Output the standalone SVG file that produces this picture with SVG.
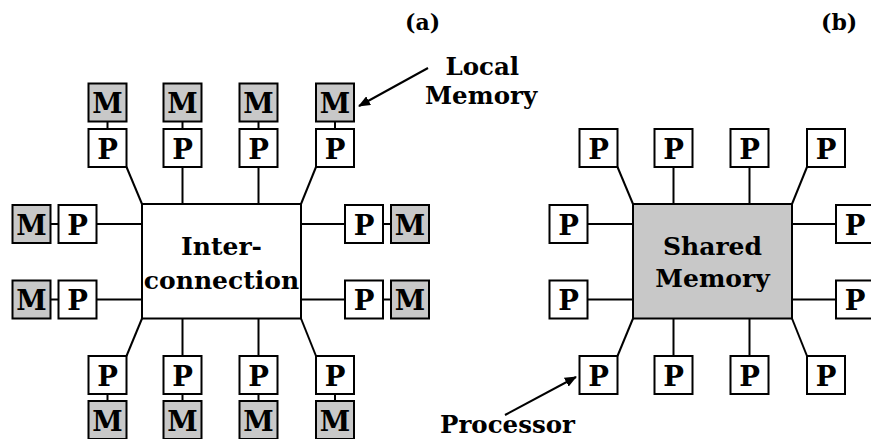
<svg xmlns="http://www.w3.org/2000/svg" width="871" height="439" viewBox="0 0 871 439">
<defs>
<marker id="ah" markerWidth="12" markerHeight="10" refX="11" refY="5" orient="auto" markerUnits="userSpaceOnUse">
<path d="M0,0 L12,5 L0,10 Z" fill="#000"/>
</marker>
</defs>
<style>
.b{fill:#fff;stroke:#000;stroke-width:2}
.m{fill:#c8c8c8;stroke:#000;stroke-width:2}
.l{stroke:#000;stroke-width:2;fill:none}
text{font-family:"DejaVu Serif","Liberation Serif",serif;font-weight:bold;fill:#000}
.bt{font-size:27.5px;text-anchor:middle}
.ct{font-size:25px;text-anchor:middle}
.lab{font-size:22px}
.lab2{font-size:24.5px}
</style>
<rect width="871" height="439" fill="#fff"/>

<g id="connectors">
<!-- (a) -->
<line class="l" x1="107.5" y1="121.5" x2="107.5" y2="129"/>
<line class="l" x1="182.5" y1="121.5" x2="182.5" y2="129"/>
<line class="l" x1="258.5" y1="121.5" x2="258.5" y2="129"/>
<line class="l" x1="335" y1="121.5" x2="335" y2="129"/>
<line class="l" x1="126.5" y1="167" x2="142" y2="204"/>
<line class="l" x1="182.5" y1="167" x2="182.5" y2="204"/>
<line class="l" x1="258.5" y1="167" x2="258.5" y2="204"/>
<line class="l" x1="316" y1="167" x2="301" y2="204"/>
<line class="l" x1="50.5" y1="224" x2="58.5" y2="224"/>
<line class="l" x1="50.5" y1="299.5" x2="58.5" y2="299.5"/>
<line class="l" x1="96.5" y1="224" x2="142" y2="224"/>
<line class="l" x1="96.5" y1="299.5" x2="142" y2="299.5"/>
<line class="l" x1="301" y1="224" x2="345" y2="224"/>
<line class="l" x1="301" y1="299.5" x2="345" y2="299.5"/>
<line class="l" x1="383" y1="224" x2="391" y2="224"/>
<line class="l" x1="383" y1="299.5" x2="391" y2="299.5"/>
<line class="l" x1="126.5" y1="356" x2="142" y2="318.5"/>
<line class="l" x1="182.5" y1="356" x2="182.5" y2="318.5"/>
<line class="l" x1="258.5" y1="356" x2="258.5" y2="318.5"/>
<line class="l" x1="316" y1="356" x2="301" y2="318.5"/>
<line class="l" x1="107.5" y1="394" x2="107.5" y2="401"/>
<line class="l" x1="182.5" y1="394" x2="182.5" y2="401"/>
<line class="l" x1="258.5" y1="394" x2="258.5" y2="401"/>
<line class="l" x1="335" y1="394" x2="335" y2="401"/>
<line class="l" x1="428" y1="68" x2="359" y2="106" marker-end="url(#ah)"/>
<!-- (b) -->
<line class="l" x1="617.5" y1="167" x2="633" y2="204"/>
<line class="l" x1="673.5" y1="167" x2="673.5" y2="204"/>
<line class="l" x1="749.5" y1="167" x2="749.5" y2="204"/>
<line class="l" x1="807" y1="167" x2="792" y2="204"/>
<line class="l" x1="587.5" y1="224" x2="633" y2="224"/>
<line class="l" x1="587.5" y1="299.5" x2="633" y2="299.5"/>
<line class="l" x1="792" y1="224" x2="836" y2="224"/>
<line class="l" x1="792" y1="299.5" x2="836" y2="299.5"/>
<line class="l" x1="617.5" y1="356" x2="633" y2="318.5"/>
<line class="l" x1="673.5" y1="356" x2="673.5" y2="318.5"/>
<line class="l" x1="749.5" y1="356" x2="749.5" y2="318.5"/>
<line class="l" x1="807" y1="356" x2="792" y2="318.5"/>
<line class="l" x1="505" y1="415" x2="576" y2="377" marker-end="url(#ah)"/>
</g>

<!-- (a) nodes -->
<g id="interconnection"><rect class="b" x="142" y="204" width="159" height="114.5"/><text class="ct" x="221.5" y="254.5">Inter-</text><text class="ct" x="221.5" y="288.5">connection</text></g>

<g id="a-m-t1"><rect class="m" x="88.5" y="83.5" width="38" height="38"/><text class="bt" x="107.5" y="113">M</text></g>
<g id="a-m-t2"><rect class="m" x="163.5" y="83.5" width="38" height="38"/><text class="bt" x="182.5" y="113">M</text></g>
<g id="a-m-t3"><rect class="m" x="239.5" y="83.5" width="38" height="38"/><text class="bt" x="258.5" y="113">M</text></g>
<g id="a-m-t4"><rect class="m" x="316" y="83.5" width="38" height="38"/><text class="bt" x="335" y="113">M</text></g>
<g id="a-p-t1"><rect class="b" x="88.5" y="129" width="38" height="38"/><text class="bt" x="107.5" y="158.5">P</text></g>
<g id="a-p-t2"><rect class="b" x="163.5" y="129" width="38" height="38"/><text class="bt" x="182.5" y="158.5">P</text></g>
<g id="a-p-t3"><rect class="b" x="239.5" y="129" width="38" height="38"/><text class="bt" x="258.5" y="158.5">P</text></g>
<g id="a-p-t4"><rect class="b" x="316" y="129" width="38" height="38"/><text class="bt" x="335" y="158.5">P</text></g>

<g id="a-m-l1"><rect class="m" x="12.5" y="205" width="38" height="38"/><text class="bt" x="31.5" y="234.5">M</text></g>
<g id="a-p-l1"><rect class="b" x="58.5" y="205" width="38" height="38"/><text class="bt" x="77.5" y="234.5">P</text></g>
<g id="a-m-l2"><rect class="m" x="12.5" y="280.5" width="38" height="38"/><text class="bt" x="31.5" y="310">M</text></g>
<g id="a-p-l2"><rect class="b" x="58.5" y="280.5" width="38" height="38"/><text class="bt" x="77.5" y="310">P</text></g>

<g id="a-p-r1"><rect class="b" x="345" y="205" width="38" height="38"/><text class="bt" x="364" y="234.5">P</text></g>
<g id="a-m-r1"><rect class="m" x="391" y="205" width="38" height="38"/><text class="bt" x="410" y="234.5">M</text></g>
<g id="a-p-r2"><rect class="b" x="345" y="280.5" width="38" height="38"/><text class="bt" x="364" y="310">P</text></g>
<g id="a-m-r2"><rect class="m" x="391" y="280.5" width="38" height="38"/><text class="bt" x="410" y="310">M</text></g>

<g id="a-p-b1"><rect class="b" x="88.5" y="356" width="38" height="38"/><text class="bt" x="107.5" y="385.5">P</text></g>
<g id="a-p-b2"><rect class="b" x="163.5" y="356" width="38" height="38"/><text class="bt" x="182.5" y="385.5">P</text></g>
<g id="a-p-b3"><rect class="b" x="239.5" y="356" width="38" height="38"/><text class="bt" x="258.5" y="385.5">P</text></g>
<g id="a-p-b4"><rect class="b" x="316" y="356" width="38" height="38"/><text class="bt" x="335" y="385.5">P</text></g>
<g id="a-m-b1"><rect class="m" x="88.5" y="401" width="38" height="38"/><text class="bt" x="107.5" y="430.5">M</text></g>
<g id="a-m-b2"><rect class="m" x="163.5" y="401" width="38" height="38"/><text class="bt" x="182.5" y="430.5">M</text></g>
<g id="a-m-b3"><rect class="m" x="239.5" y="401" width="38" height="38"/><text class="bt" x="258.5" y="430.5">M</text></g>
<g id="a-m-b4"><rect class="m" x="316" y="401" width="38" height="38"/><text class="bt" x="335" y="430.5">M</text></g>

<!-- (b) nodes -->
<g id="shared-memory"><rect class="m" x="633" y="204" width="159" height="114.5"/><text class="ct" x="712.5" y="254.5">Shared</text><text class="ct" x="712.5" y="287">Memory</text></g>
<g id="b-p-t1"><rect class="b" x="579.5" y="129" width="38" height="38"/><text class="bt" x="598.5" y="158.5">P</text></g>
<g id="b-p-t2"><rect class="b" x="654.5" y="129" width="38" height="38"/><text class="bt" x="673.5" y="158.5">P</text></g>
<g id="b-p-t3"><rect class="b" x="730.5" y="129" width="38" height="38"/><text class="bt" x="749.5" y="158.5">P</text></g>
<g id="b-p-t4"><rect class="b" x="807" y="129" width="38" height="38"/><text class="bt" x="826" y="158.5">P</text></g>
<g id="b-p-l1"><rect class="b" x="549.5" y="205" width="38" height="38"/><text class="bt" x="568.5" y="234.5">P</text></g>
<g id="b-p-l2"><rect class="b" x="549.5" y="280.5" width="38" height="38"/><text class="bt" x="568.5" y="310">P</text></g>
<g id="b-p-r1"><rect class="b" x="836" y="205" width="38" height="38"/><text class="bt" x="855" y="234.5">P</text></g>
<g id="b-p-r2"><rect class="b" x="836" y="280.5" width="38" height="38"/><text class="bt" x="855" y="310">P</text></g>
<g id="b-p-b1"><rect class="b" x="579.5" y="356" width="38" height="38"/><text class="bt" x="598.5" y="385.5">P</text></g>
<g id="b-p-b2"><rect class="b" x="654.5" y="356" width="38" height="38"/><text class="bt" x="673.5" y="385.5">P</text></g>
<g id="b-p-b3"><rect class="b" x="730.5" y="356" width="38" height="38"/><text class="bt" x="749.5" y="385.5">P</text></g>
<g id="b-p-b4"><rect class="b" x="807" y="356" width="38" height="38"/><text class="bt" x="826" y="385.5">P</text></g>

<g id="labels">
<text class="lab" x="405" y="30">(a)</text>
<text class="lab" x="821" y="30">(b)</text>
<text class="lab2" x="445.5" y="75">Local</text>
<text class="lab2" x="425" y="104">Memory</text>
<text class="lab2" x="440" y="433">Processor</text>
</g>
</svg>
